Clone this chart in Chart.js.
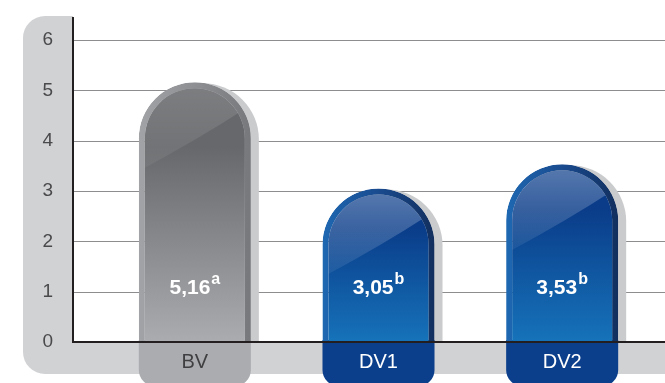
<!DOCTYPE html>
<html>
<head>
<meta charset="utf-8">
<script src="https://cdn.jsdelivr.net/npm/chart.js@4.4.1/dist/chart.umd.min.js"></script>
<style>
  html, body { margin: 0; padding: 0; background: #fff; }
  canvas { display: block; }
</style>
</head>
<body>
<canvas id="chart" width="665" height="383"></canvas>
<script>
  // data
  const categories = ['BV', 'DV1', 'DV2'];
  const values     = [5.16, 3.05, 3.53];
  const valueText  = ['5,16', '3,05', '3,53'];
  const letters    = ['a', 'b', 'b'];
  const yMin = 0, yMax = 6, yStep = 1;

  const FONT = '"Liberation Sans", Arial, sans-serif';

  const grayTheme = {
    fillTop: '#67686b', fillBottom: '#abacaf',
    ringL: '#a2a3a6', ringM: '#8e8f92', ringR: '#77787b',
    foot: '#abacaf', gloss0: 0.14, gloss1: 0.05, label: '#3f3f41'
  };
  const blueTheme = {
    fillTop: '#0a3c89', fillBottom: '#1673ba',
    ringL: '#1e68b2', ringM: '#1a4b8f', ringR: '#122f5e',
    foot: '#0c3f8b', gloss0: 0.30, gloss1: 0.06, label: '#ffffff'
  };
  const theme = i => (i === 0 ? grayTheme : blueTheme);

  // panel geometry
  const PANEL_L = 23, PANEL_T = 16, AXIS_X = 73, PANEL_B = 374, PANEL_R = 22;

  function barGeom(ctx) {
    const chart = ctx.chart;
    const xs = chart.scales.x, ys = chart.scales.y;
    if (!chart.chartArea || !xs || !ys) return null;
    return {
      cx: xs.getPixelForValue(ctx.dataIndex),
      top: ys.getPixelForValue(values[ctx.dataIndex]),
      base: ys.getPixelForValue(0),
      half: xs.getPixelForValue(1) - xs.getPixelForValue(0)
    };
  }

  function pillPath(c, left, top, w, bottom) {
    const r = w / 2;
    c.beginPath();
    c.moveTo(left, bottom);
    c.lineTo(left, top + r);
    c.arc(left + r, top + r, r, Math.PI, 0);
    c.lineTo(left + w, bottom);
    c.closePath();
  }

  const decor = {
    id: 'decor',
    beforeDraw(chart) {
      const c = chart.ctx, ys = chart.scales.y;
      const base = ys.getPixelForValue(0);
      c.save();
      c.fillStyle = '#ffffff';
      c.fillRect(0, 0, chart.width, chart.height);

      // grey L-shaped panel
      c.fillStyle = '#d1d2d4';
      c.beginPath();
      c.moveTo(PANEL_L + PANEL_R, PANEL_T);
      c.lineTo(AXIS_X, PANEL_T);
      c.lineTo(AXIS_X, base + 1);
      c.lineTo(chart.width, base + 1);
      c.lineTo(chart.width, PANEL_B);
      c.lineTo(PANEL_L + PANEL_R, PANEL_B);
      c.arcTo(PANEL_L, PANEL_B, PANEL_L, PANEL_B - PANEL_R, PANEL_R);
      c.lineTo(PANEL_L, PANEL_T + PANEL_R);
      c.arcTo(PANEL_L, PANEL_T, PANEL_L + PANEL_R, PANEL_T, PANEL_R);
      c.closePath();
      c.fill();

      // gridlines
      c.strokeStyle = '#8d8d8f';
      c.lineWidth = 1;
      ys.ticks.forEach(t => {
        if (t.value === 0) return;
        const y = Math.round(ys.getPixelForValue(t.value)) + 0.5;
        c.beginPath();
        c.moveTo(AXIS_X, y);
        c.lineTo(chart.width, y);
        c.stroke();
      });

      // y axis line
      c.strokeStyle = '#231f20';
      c.lineWidth = 2;
      c.beginPath();
      c.moveTo(AXIS_X, PANEL_T + 1);
      c.lineTo(AXIS_X, base + 1);
      c.stroke();
      c.restore();
    },
    beforeDatasetsDraw(chart) {
      const c = chart.ctx;
      const meta = chart.getDatasetMeta(0);
      c.save();
      meta.data.forEach((el, i) => {
        const p = el.getProps(['x', 'y', 'width', 'base'], true);
        const left = p.x - p.width / 2;
        // shadow
        c.fillStyle = '#cacbcd';
        pillPath(c, left + 8, p.y + 1, p.width, p.base);
        c.fill();
        // foot below the axis
        const bot = 386, rb = 16;
        c.fillStyle = theme(i).foot;
        c.beginPath();
        c.moveTo(left, p.base - 2);
        c.lineTo(left + p.width, p.base - 2);
        c.lineTo(left + p.width, bot - rb);
        c.arcTo(left + p.width, bot, left + p.width - rb, bot, rb);
        c.lineTo(left + rb, bot);
        c.arcTo(left, bot, left, bot - rb, rb);
        c.closePath();
        c.fill();
      });
      c.restore();
    },
    afterDatasetsDraw(chart) {
      const c = chart.ctx, ys = chart.scales.y;
      const meta = chart.getDatasetMeta(0);
      const base = ys.getPixelForValue(0);
      c.save();
      meta.data.forEach((el, i) => {
        const p = el.getProps(['x', 'y', 'width', 'base'], true);
        const t = theme(i);
        const inset = 6;
        const l = p.x - p.width / 2 + inset;
        const r = p.width / 2 - inset;
        const top = p.y + inset;

        // gloss on the cap
        c.save();
        pillPath(c, l, top, 2 * r, p.base);
        c.clip();
        c.beginPath();
        c.moveTo(l - 1, top - 2);
        c.lineTo(l + 2 * r + 1, top - 2);
        c.lineTo(l + 2 * r + 1, top + 0.4 * r);
        c.quadraticCurveTo(l + 1.1 * r, top + 1.0 * r, l - 1, top + 1.6 * r);
        c.closePath();
        const g = c.createLinearGradient(0, top, 0, top + 1.6 * r);
        g.addColorStop(0, `rgba(255,255,255,${t.gloss0})`);
        g.addColorStop(1, `rgba(255,255,255,${t.gloss1})`);
        c.fillStyle = g;
        c.fill();
        c.restore();

        // value label with superscript letter
        const ly = ys.getPixelForValue(1.1);
        c.fillStyle = '#ffffff';
        c.textAlign = 'left';
        c.textBaseline = 'alphabetic';
        c.font = `bold 21px ${FONT}`;
        const mw = c.measureText(valueText[i]).width;
        c.font = `bold 16px ${FONT}`;
        const sw = c.measureText(letters[i]).width;
        const x0 = p.x - (mw + sw + 1) / 2;
        c.font = `bold 21px ${FONT}`;
        c.fillText(valueText[i], x0, ly + 7.5);
        c.font = `bold 16px ${FONT}`;
        c.fillText(letters[i], x0 + mw + 1, ly - 2.5);
      });

      // x axis line over the bars
      c.strokeStyle = '#231f20';
      c.lineWidth = 2;
      c.beginPath();
      c.moveTo(AXIS_X - 1, base);
      c.lineTo(chart.width, base);
      c.stroke();
      c.restore();
    }
  };

  const ctx = document.getElementById('chart').getContext('2d');
  new Chart(ctx, {
    type: 'bar',
    data: {
      labels: categories,
      datasets: [{
        data: values,
        barPercentage: 0.61,
        categoryPercentage: 1.0,
        borderWidth: 6,
        borderSkipped: 'start',
        borderRadius: { topLeft: 60, topRight: 60, bottomLeft: 0, bottomRight: 0 },
        backgroundColor: c => {
          const t = theme(c.dataIndex);
          const g = barGeom(c);
          if (!g) return t.fillBottom;
          const grad = c.chart.ctx.createLinearGradient(0, g.top, 0, g.base);
          grad.addColorStop(0, t.fillTop);
          grad.addColorStop(0.25, t.fillTop);
          grad.addColorStop(1, t.fillBottom);
          return grad;
        },
        borderColor: c => {
          const t = theme(c.dataIndex);
          const g = barGeom(c);
          if (!g) return t.ringM;
          const w = g.half * 0.61 / 2;
          const grad = c.chart.ctx.createLinearGradient(g.cx - w, 0, g.cx + w, 0);
          grad.addColorStop(0, t.ringL);
          grad.addColorStop(0.5, t.ringM);
          grad.addColorStop(1, t.ringR);
          return grad;
        }
      }]
    },
    options: {
      responsive: false,
      animation: false,
      devicePixelRatio: 1,
      layout: { padding: { left: 0, right: 11, top: 40, bottom: 0 } },
      plugins: {
        legend: { display: false },
        tooltip: { enabled: false }
      },
      scales: {
        x: {
          grid: { display: false, drawTicks: false },
          border: { display: false },
          ticks: {
            z: 1,
            padding: 8,
            color: c => theme(c.index).label,
            font: { family: FONT, size: 20 }
          },
          afterFit: s => { s.height = 41; s.paddingLeft = 0; s.paddingRight = 0; }
        },
        y: {
          min: yMin,
          max: yMax,
          grid: { display: false, drawTicks: false },
          border: { display: false },
          ticks: {
            stepSize: yStep,
            padding: 50,
            color: '#4a4a4c',
            font: { family: FONT, size: 19 }
          },
          afterFit: s => { s.width = 103; s.paddingTop = 10; s.paddingBottom = 10; }
        }
      }
    },
    plugins: [decor]
  });
</script>
</body>
</html>
